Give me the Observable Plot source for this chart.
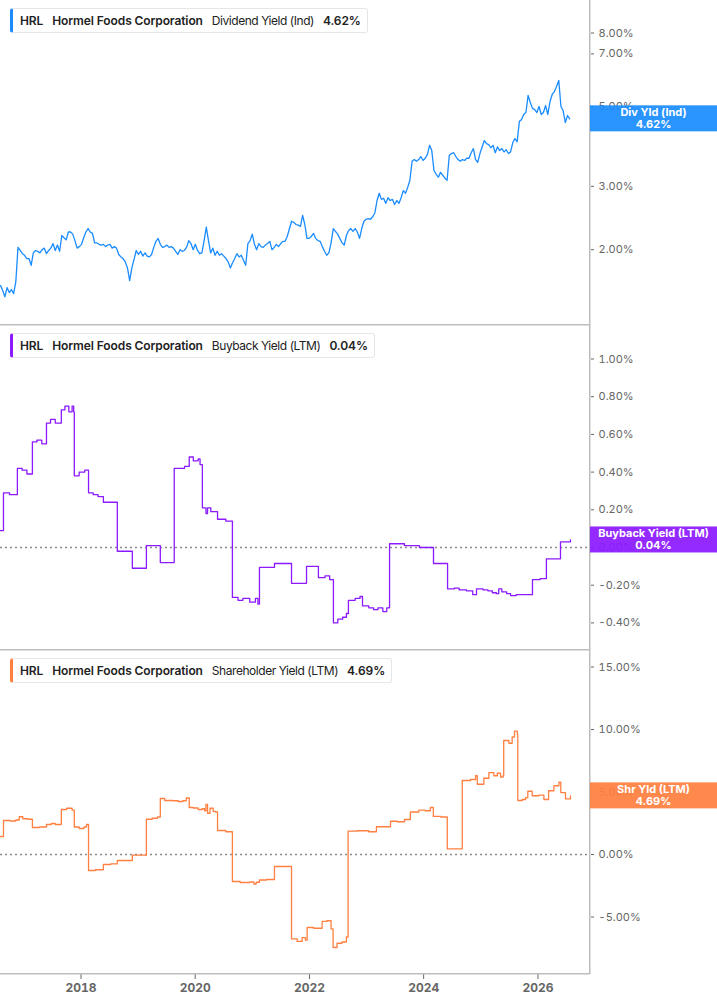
<!DOCTYPE html>
<html><head><meta charset="utf-8">
<script src="https://cdn.jsdelivr.net/npm/d3@7"></script>
<script src="https://cdn.jsdelivr.net/npm/@observablehq/plot@0.6"></script>
<style>
body{margin:0;background:#fff;font-family:Inter,"Noto Sans",sans-serif;}
#wrap{position:relative;width:717px;}
.panel{position:relative;width:717px;}
.panel svg{display:block;}
.legend{position:absolute;left:10px;top:8px;height:23px;box-sizing:content-box;border:1px solid #e6e6e6;border-left:3px solid #000;border-radius:3px;background:#fff;font-size:12px;line-height:23px;padding:0 6px 0 7px;color:#222;white-space:nowrap;}
.legend span{margin-right:9px;letter-spacing:-0.45px;}
.legend span:last-child{margin-right:0;}
.legend .b{font-weight:600;letter-spacing:-0.1px;}
</style>
</head><body>
<div id="wrap"></div>
<script>
// ---- data ----
const xDomain = ["2016-08-04", "2026-12-03"];
const yearTicks = [2018, 2020, 2022, 2024, 2026];

// Dividend Yield (Ind), one reading every 14 days from divStart
const divStart = "2016-08-04";
const divYield = [
 1.59,1.54,1.48,1.57,1.52,1.55,1.51,1.63,
 2.03,1.99,1.95,1.93,1.89,1.89,1.81,1.96,
 1.99,1.98,1.96,2.00,2.02,1.95,1.99,2.02,2.08,1.99,2.06,1.98,
 2.19,2.16,2.13,2.24,2.24,2.21,2.12,2.02,2.04,2.07,2.16,2.24,
 2.29,2.24,2.22,2.09,2.09,2.07,2.06,2.07,2.04,2.06,2.07,2.02,
 2.04,2.02,1.94,1.91,1.89,1.85,1.78,1.64,1.78,1.88,1.99,1.94,
 1.98,1.92,1.96,1.92,1.91,1.94,2.03,2.11,2.15,2.07,2.03,2.04,
 2.06,2.03,2.04,2.02,1.98,1.94,2.00,1.98,1.99,2.03,2.12,2.08,
 2.00,2.07,1.99,1.95,1.96,2.12,2.31,2.12,1.96,2.02,1.93,1.98,
 1.93,1.95,1.92,1.89,1.85,1.78,1.84,1.89,1.95,1.91,1.93,1.87,
 1.81,2.08,2.12,2.21,2.07,2.00,2.08,2.04,2.03,2.06,2.08,2.11,
 2.00,2.03,2.07,2.04,2.08,2.11,2.11,2.18,2.29,2.40,2.38,2.35,
 2.34,2.32,2.49,2.35,2.15,2.15,2.18,2.22,2.15,2.12,2.11,2.04,
 1.98,1.93,1.96,2.09,2.29,2.25,2.21,2.15,2.09,2.06,2.19,2.26,
 2.29,2.25,2.29,2.24,2.15,2.29,2.40,2.43,2.44,2.43,2.47,2.53,
 2.74,2.87,2.76,2.78,2.69,2.79,2.74,2.76,2.67,2.74,2.69,2.79,
 2.92,2.87,2.98,3.12,3.52,3.56,3.52,3.56,3.63,3.54,3.59,3.68,
 3.90,3.77,3.32,3.24,3.18,3.28,3.22,3.16,3.12,3.66,3.70,3.72,
 3.63,3.56,3.52,3.56,3.54,3.59,3.59,3.72,3.82,3.56,3.50,3.70,
 3.86,4.02,3.94,3.92,3.84,3.90,3.72,3.86,3.77,3.82,3.74,3.79,
 3.70,3.74,3.97,4.07,3.99,4.54,4.60,4.75,4.81,5.37,5.13,4.94,
 4.90,4.81,5.00,4.75,4.81,5.03,4.75,5.16,5.40,5.50,5.68,5.91,
 5.00,4.87,4.51,4.72,4.62
];

// Buyback Yield (LTM), step changes
const bbDates = ["2016-08-04","2016-08-23","2016-10-01","2016-11-20","2016-12-20","2017-01-20","2017-02-24","2017-03-25","2017-04-25","2017-05-25","2017-06-20","2017-07-20","2017-08-28","2017-09-20","2017-10-15","2017-11-05","2017-11-15","2017-11-19","2017-12-20","2018-01-25","2018-02-18","2018-03-20","2018-04-20","2018-05-24","2018-07-15","2018-08-21","2018-11-25","2019-02-23","2019-05-23","2019-08-20","2019-09-25","2019-10-25","2019-11-24","2019-12-20","2020-01-20","2020-02-01","2020-02-16","2020-03-10","2020-03-20","2020-04-10","2020-05-23","2020-07-15","2020-08-26","2020-10-01","2020-11-01","2020-12-15","2021-01-20","2021-02-05","2021-02-15","2021-05-22","2021-09-08","2021-12-13","2022-02-27","2022-04-10","2022-05-10","2022-06-03","2022-07-01","2022-08-01","2022-08-25","2022-09-07","2022-10-20","2022-11-20","2022-12-06","2023-01-15","2023-02-15","2023-03-15","2023-04-15","2023-05-10","2023-05-28","2023-08-31","2023-12-05","2024-03-04","2024-06-02","2024-07-15","2024-08-15","2024-10-01","2024-11-10","2024-12-04","2025-01-15","2025-02-15","2025-03-15","2025-04-10","2025-04-25","2025-05-15","2025-06-15","2025-07-10","2025-08-15","2025-11-27","2026-01-15","2026-02-24","2026-05-25","2026-07-28"];
const bbValues = [0.09,0.29,0.28,0.42,0.41,0.39,0.56,0.57,0.55,0.66,0.68,0.66,0.73,0.75,0.72,0.75,0.72,0.38,0.40,0.41,0.29,0.28,0.27,0.24,0.24,-0.02,-0.11,0.01,-0.08,0.42,0.42,0.43,0.48,0.46,0.47,0.44,0.21,0.18,0.21,0.19,0.15,0.14,-0.265,-0.28,-0.27,-0.29,-0.27,-0.30,-0.105,-0.085,-0.19,-0.10,-0.16,-0.15,-0.17,-0.40,-0.38,-0.37,-0.35,-0.28,-0.27,-0.26,-0.31,-0.32,-0.33,-0.32,-0.34,-0.32,0.02,0.01,0.00,-0.085,-0.22,-0.215,-0.225,-0.23,-0.25,-0.22,-0.225,-0.23,-0.24,-0.245,-0.22,-0.235,-0.245,-0.255,-0.25,-0.17,-0.165,-0.06,0.03,0.04];

// Shareholder Yield (LTM), step changes
const shrDates = ["2016-08-04","2016-08-23","2016-10-05","2016-11-10","2016-12-02","2016-12-25","2017-01-25","2017-02-24","2017-04-10","2017-05-25","2017-06-25","2017-07-20","2017-08-28","2017-10-01","2017-11-05","2017-11-19","2017-12-20","2018-01-20","2018-02-05","2018-02-18","2018-04-01","2018-05-24","2018-07-10","2018-08-21","2018-11-25","2019-02-23","2019-04-01","2019-05-05","2019-05-23","2019-06-20","2019-08-10","2019-09-15","2019-10-15","2019-11-05","2019-11-24","2019-12-20","2020-01-20","2020-02-16","2020-03-01","2020-03-10","2020-03-20","2020-04-05","2020-04-25","2020-05-10","2020-05-23","2020-07-15","2020-08-26","2020-10-15","2020-12-15","2021-01-10","2021-01-25","2021-02-15","2021-04-01","2021-05-22","2021-09-08","2021-10-14","2021-11-15","2021-12-06","2021-12-17","2022-01-28","2022-03-23","2022-04-23","2022-05-19","2022-06-01","2022-06-26","2022-07-28","2022-08-25","2022-09-05","2022-11-01","2023-01-15","2023-03-05","2023-06-03","2023-07-15","2023-09-01","2023-10-08","2023-12-01","2024-01-10","2024-02-13","2024-03-03","2024-04-20","2024-05-31","2024-09-04","2024-10-27","2024-11-28","2024-12-09","2025-01-20","2025-02-21","2025-03-25","2025-04-16","2025-05-07","2025-05-24","2025-05-27","2025-06-29","2025-07-20","2025-08-04","2025-08-22","2025-08-25","2025-09-23","2025-10-14","2025-10-28","2025-11-25","2026-01-07","2026-02-08","2026-03-10","2026-04-13","2026-05-15","2026-05-27","2026-06-26","2026-07-28"];
const shrValues = [1.44,2.72,2.68,2.76,3.02,2.86,2.82,2.16,2.20,2.40,2.48,2.40,3.60,3.70,3.55,2.20,2.08,2.20,2.40,-1.28,-1.22,-0.80,-0.75,-0.48,-0.05,2.82,2.90,3.00,4.48,4.32,4.30,4.24,4.30,4.52,3.76,3.72,3.60,3.66,3.50,4.00,3.30,3.70,3.45,3.40,1.92,1.82,-2.16,-2.24,-2.20,-2.36,-2.22,-2.04,-2.00,-0.96,-6.75,-6.95,-6.65,-6.85,-5.84,-5.90,-5.35,-5.30,-5.95,-7.44,-7.10,-7.00,-6.60,1.87,1.90,1.82,2.22,2.66,2.62,2.80,3.40,3.55,3.50,3.76,3.05,3.00,0.45,5.92,6.00,6.30,5.62,6.10,6.55,6.30,6.50,6.20,6.35,9.12,8.90,9.40,9.87,9.60,4.32,4.40,4.55,5.06,4.70,4.75,4.40,5.10,5.50,5.78,4.95,4.45,4.69];

const divTicks = [2, 3, 5, 7, 8];
const bbTicks = [-0.4, -0.2, 0, 0.2, 0.4, 0.6, 0.8, 1.0];
const shrTicks = [-5, 0, 5, 10, 15];

// ---- build ----
const divData = divYield.map((v, i) => ({date: d3.utcDay.offset(new Date(divStart), 14 * i), value: v}));
const bbData = bbDates.map((d, i) => ({date: new Date(d), value: bbValues[i]}));
const shrData = shrDates.map((d, i) => ({date: new Date(d), value: shrValues[i]}));

const W = 717;
const panels = [
  {data: divData, color: "#1a8cff", y: {type: "log", domain: [1.2315, 9.85]}, ticks: divTicks, height: 325, mb: 0, zero: false, curve: "linear",
   box: "Div Yld (Ind)", legend: "Dividend Yield (Ind)", showX: false},
  {data: bbData, color: "#8c1aff", y: {type: "linear", domain: [-0.5464, 1.1777]}, ticks: bbTicks, height: 325, mb: 0, zero: true, curve: "step-after",
   box: "Buyback Yield (LTM)", legend: "Buyback Yield (LTM)", showX: false},
  {data: shrData, color: "#ff8040", y: {type: "linear", domain: [-9.6, 16.32]}, ticks: shrTicks, height: 355, mb: 31, zero: true, curve: "step-after",
   box: "Shr Yld (LTM)", legend: "Shareholder Yield (LTM)", showX: true}
];

const wrap = document.getElementById("wrap");
for (const p of panels) {
  const last = p.data[p.data.length - 1].value;
  const marks = [
    Plot.axisY({anchor: "right", ticks: p.ticks, tickFormat: d => d.toFixed(2) + "%", tickSize: 3, tickPadding: 5, label: null, fontSize: 11})
  ];
  if (p.showX) {
    marks.push(Plot.axisX({ticks: yearTicks.map(y => new Date(Date.UTC(y, 0, 1))), tickFormat: "%Y", tickSize: 5, tickPadding: 4, fontWeight: "bold", fontSize: 12, label: null}));
  }
  if (p.zero) marks.push(Plot.ruleY([0], {stroke: "#8a8a8a", strokeWidth: 1.3, strokeDasharray: "2,3"}));
  marks.push(Plot.lineY(p.data, {x: "date", y: "value", stroke: p.color, strokeWidth: 1.3, curve: p.curve}));
  marks.push(Plot.ruleY([p.y.domain[0]], {stroke: "#bdbdbd", strokeWidth: 1.5, dy: -0.75}));
  marks.push(Plot.ruleX([new Date(xDomain[1])], {stroke: "#bdbdbd", strokeWidth: 1.5, dx: -0.75}));

  const plot = Plot.plot({
    width: W, height: p.height,
    marginLeft: 0, marginRight: 127, marginTop: 0, marginBottom: p.mb,
    style: {fontFamily: "Inter, 'Noto Sans', sans-serif", fontSize: "11px", color: "#666", background: "transparent", overflow: "visible"},
    x: {type: "utc", domain: xDomain.map(d => new Date(d)), axis: p.showX ? undefined : null},
    y: {...p.y, axis: null},
    marks
  });

  // value box at the right, positioned with the plot's own scales
  const yPos = plot.scale("y").apply(last);
  const x0 = plot.scale("x").range[1];
  const svg = d3.select(plot);
  const g = svg.append("g");
  g.append("rect").attr("x", x0).attr("y", yPos - 13).attr("width", W - x0).attr("height", 26)
    .attr("fill", p.color).attr("fill-opacity", 0.93);
  const cx = (x0 + W) / 2;
  g.append("text").attr("x", cx).attr("y", yPos - 2).attr("text-anchor", "middle")
    .attr("fill", "#fff").attr("font-weight", "bold").attr("font-size", 11).text(p.box);
  g.append("text").attr("x", cx).attr("y", yPos + 10).attr("text-anchor", "middle")
    .attr("fill", "#fff").attr("font-weight", "bold").attr("font-size", 11).text(last.toFixed(2) + "%");

  const div = document.createElement("div");
  div.className = "panel";
  div.appendChild(plot);
  const lg = document.createElement("div");
  lg.className = "legend";
  lg.style.borderLeftColor = p.color;
  lg.innerHTML = `<span class="b">HRL</span><span class="b">Hormel Foods Corporation</span><span>${p.legend}</span><span class="b">${last.toFixed(2)}%</span>`;
  div.appendChild(lg);
  wrap.appendChild(div);
}
</script>
</body></html>
